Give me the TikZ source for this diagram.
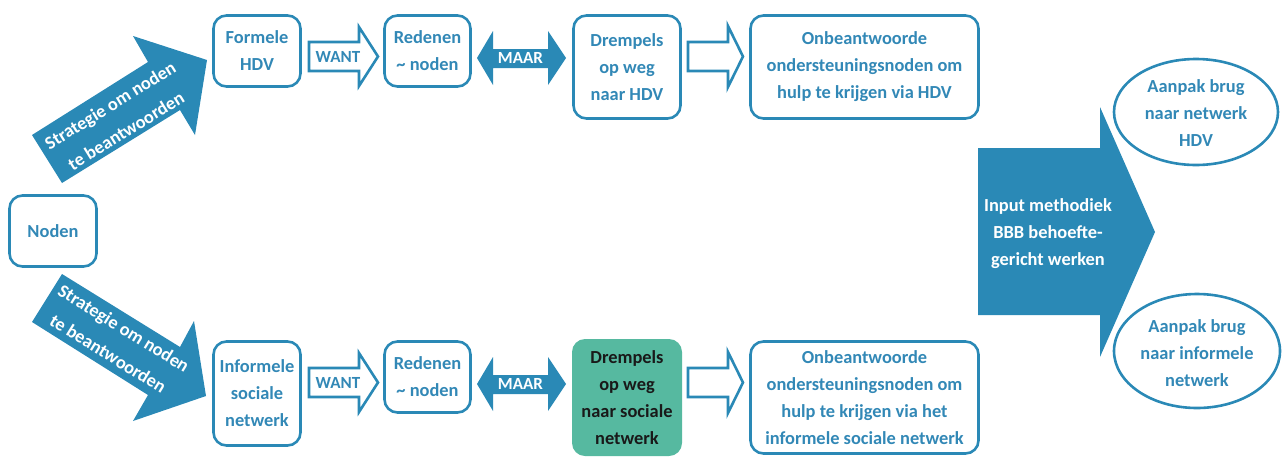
\documentclass[tikz,border=0pt]{standalone}
\usepackage{fontspec}
\setmainfont{Carlito}
\definecolor{ablue}{RGB}{42,137,182}
\definecolor{tblue}{RGB}{50,136,182}
\definecolor{tgreen}{RGB}{86,185,160}
\definecolor{dtext}{RGB}{25,25,25}
\newcommand\mf{\fontsize{18.4}{27}\selectfont\bfseries}
\newcommand\rotf{\fontsize{18.4}{30}\selectfont\bfseries}
\newcommand\lblf{\fontsize{17}{20}\selectfont\bfseries}
\begin{document}
\begin{tikzpicture}[x=1pt,y=-1pt,
  box/.style={draw=ablue, line width=2.6pt, rounded corners=13pt, text=tblue, font=\mf, align=center, inner sep=0pt},
  blk/.style={fill=ablue, draw=none},
  hollow/.style={draw=ablue, line width=2.6pt, fill=white, line join=miter},
  wtxt/.style={text=white, font=\mf, align=center, inner sep=0pt},
  rtxt/.style={text=white, font=\rotf, align=center, inner sep=0pt},
  lbl/.style={font=\lblf, inner sep=0pt},
  ovl/.style={draw=ablue, line width=2.6pt},
  otxt/.style={text=tblue, font=\mf, align=center, inner sep=0pt}]
\useasboundingbox (0,0) rectangle (1283,456);

% boxes
\node[box, minimum width=87, minimum height=71] (noden) at (53,231) {Noden};
\node[box, minimum width=87, minimum height=71] (formele) at (257,51) {Formele\\HDV};
\node[box, minimum width=86, minimum height=71] (reden1) at (427.5,51) {Redenen\\\textasciitilde{} noden};
\node[box, minimum width=107, minimum height=103] (drempel1) at (627,67) {Drempels\\op weg\\naar HDV};
\node[box, minimum width=228, minimum height=103] (onb1) at (864.5,67) {Onbeantwoorde\\ondersteuningsnoden om\\hulp te krijgen via HDV};

\node[box, minimum width=87, minimum height=104] (informele) at (257,393.5) {Informele\\sociale\\netwerk};
\node[box, minimum width=86, minimum height=71] (reden2) at (427.5,377) {Redenen\\\textasciitilde{} noden};
\node[box, draw=none, fill=tgreen, text=dtext, minimum width=110, minimum height=117] (drempel2) at (627,397.5) {Drempels\\op weg\\naar sociale\\netwerk};
\node[box, minimum width=228, minimum height=112] (onb2) at (864.5,397.5) {Onbeantwoorde\\ondersteuningsnoden om\\hulp te krijgen via het\\informele sociale netwerk};

% strategy arrows
\fill[blk] (32,135) -- (148,62) -- (133,36) -- (207,60) -- (195,135) -- (180,110) -- (62,183) -- cycle;
\node[rtxt, rotate=31.7] (strat1) at (118,118) {Strategie om noden\\te beantwoorden};
\fill[blk] (32,322) -- (148,395) -- (133,421) -- (206,396) -- (194,321) -- (180,347) -- (62,274) -- cycle;
\node[rtxt, rotate=-31.7] (strat2) at (116,341) {Strategie om noden\\te beantwoorden};

% WANT arrows
\draw[hollow] (309,42) -- (359,42) -- (359,27) -- (378,56.5) -- (359,86) -- (359,71) -- (309,71) -- cycle;
\node[lbl, text=tblue] (want1) at (338,57) {WANT};
\draw[hollow] (309,368) -- (359,368) -- (359,353) -- (378,382.5) -- (359,412) -- (359,397) -- (309,397) -- cycle;
\node[lbl, text=tblue] (want2) at (338,383) {WANT};

% MAAR double arrows
\fill[blk] (477,58) -- (493,31) -- (493,49) -- (548,49) -- (548,31) -- (566,58) -- (548,85) -- (548,68) -- (493,68) -- (493,85) -- cycle;
\node[lbl, text=white] (maar1) at (520.5,58) {MAAR};
\fill[blk] (477,384) -- (493,357) -- (493,375) -- (548,375) -- (548,357) -- (566,384) -- (548,411) -- (548,394) -- (493,394) -- (493,411) -- cycle;
\node[lbl, text=white] (maar2) at (520.5,384) {MAAR};

% open arrows
\draw[hollow] (688,42) -- (728,42) -- (728,26) -- (743,56.5) -- (728,87) -- (728,71) -- (688,71) -- cycle;
\draw[hollow] (688,368) -- (728,368) -- (728,352) -- (743,382.5) -- (728,413) -- (728,397) -- (688,397) -- cycle;

% big arrow
\fill[blk] (978,148) -- (1100,148) -- (1100,107) -- (1155,232) -- (1100,357) -- (1100,315) -- (978,315) -- cycle;
\node[wtxt] (input) at (1048,234) {Input methodiek\\BBB behoefte-\\gericht werken};

% ellipses
\draw[ovl] (1196,112) ellipse [x radius=82, y radius=53];
\node[otxt] (ell1) at (1196,113) {Aanpak brug\\naar netwerk\\HDV};
\draw[ovl] (1197,351) ellipse [x radius=83, y radius=57];
\node[otxt] (ell2) at (1197,353) {Aanpak brug\\naar informele\\netwerk};
\end{tikzpicture}
\end{document}
